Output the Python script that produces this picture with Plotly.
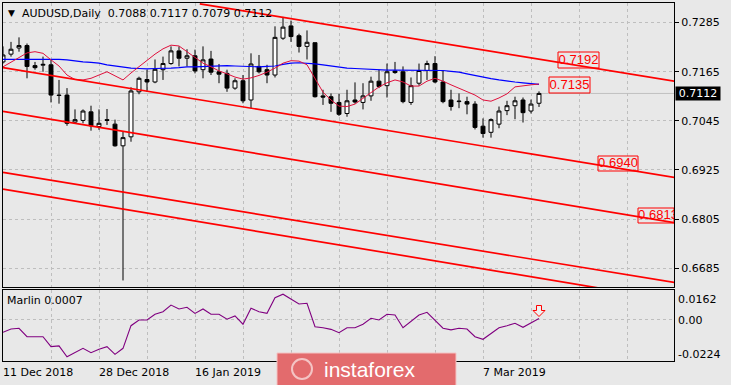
import plotly.graph_objects as go

# ---------------- data ----------------
symbol_name = "AUDUSD,Daily"
bars = list(range(68))

opens = [.7189, .7208, .7223, .7229, .7180, .7181, .7182, .7108, .7108, .7042,
         .7046, .7067, .7031, .7048, .7037, .6984, .7006, .7116, .7146, .7140,
         .7170, .7185, .7216, .7198, .7204, .7170, .7196, .7165, .7161, .7125,
         .7143, .7096, .7178, .7170, .7157, .7247, .7277, .7253, .7227, .7236,
         .7106, .7104, .7090, .7063, .7096, .7090, .7106, .7142, .7131, .7167,
         .7165, .7090, .7137, .7168, .7185, .7140, .7096, .7092, .7092, .7086,
         .7032, .7017, .7037, .7070, .7082, .7096, .7069, .7088]
highs = [.7227, .7238, .7249, .7234, .7189, .7202, .7194, .7145, .7125, .7073,
         .7073, .7082, .7073, .7074, .7048, .7018, .7127, .7153, .7170, .7195,
         .7202, .7227, .7227, .7220, .7219, .7227, .7216, .7184, .7170, .7149,
         .7157, .7210, .7206, .7182, .7276, .7299, .7290, .7258, .7266, .7236,
         .7121, .7112, .7111, .7121, .7139, .7137, .7153, .7170, .7185, .7189,
         .7178, .7151, .7185, .7192, .7203, .7168, .7121, .7112, .7104, .7093,
         .7051, .7051, .7080, .7094, .7104, .7102, .7097, .7117]
lows = [.7185, .7202, .7214, .7149, .7170, .7165, .7090, .7087, .7033, .7039,
        .7039, .7021, .7023, .7035, .6982, .6655, .6994, .7110, .7116, .7137,
        .7145, .7182, .7178, .7178, .7161, .7149, .7157, .7137, .7116, .7121,
        .7088, .7076, .7161, .7137, .7151, .7243, .7238, .7212, .7195, .7102,
        .7084, .7067, .7057, .7055, .7087, .7073, .7094, .7125, .7102, .7160,
        .7088, .7084, .7131, .7145, .7137, .7088, .7070, .7076, .7061, .7024,
        .7004, .7004, .7027, .7059, .7049, .7041, .7063, .7079]
closes = [.7206, .7220, .7229, .7178, .7175, .7183, .7108, .7107, .7039, .7048,
          .7069, .7033, .7039, .7046, .6984, .7004, .7118, .7149, .7140, .7171,
          .7185, .7216, .7198, .7204, .7167, .7194, .7164, .7159, .7125, .7143,
          .7094, .7184, .7165, .7157, .7249, .7274, .7251, .7227, .7237, .7104,
          .7103, .7088, .7061, .7094, .7091, .7106, .7142, .7129, .7165, .7163,
          .7092, .7131, .7168, .7185, .7140, .7092, .7080, .7093, .7086, .7029,
          .7014, .7048, .7069, .7082, .7094, .7065, .7086, .7112]

ma_slow = [.7195, .7195, .7195, .7196, .7196, .7196, .7196, .7195, .7194, .7191,
           .7189, .7188, .7186, .7182, .7179, .7177, .7174, .7173, .7172, .7173,
           .7173, .7174, .7175, .7177, .7177, .7178, .7179, .7180, .7180, .7179,
           .7178, .7177, .7177, .7178, .7179, .7183, .7186, .7187, .7186, .7184,
           .7182, .7179, .7177, .7174, .7173, .7172, .7171, .7169, .7169, .7169,
           .7169, .7169, .7169, .7168, .7168, .7168, .7166, .7164, .7160, .7156,
           .7151, .7148, .7145, .7142, .7140, .7138, .7136, .7134]
ma_fast = [.7177, .7189, .7201, .7211, .7214, .7210, .7194, .7179, .7157, .7146,
           .7145, .7149, .7157, .7165, .7155, .7145, .7162, .7177, .7194, .7208,
           .7221, .7230, .7228, .7214, .7199, .7186, .7177, .7167, .7160, .7152,
           .7147, .7150, .7156, .7164, .7174, .7186, .7192, .7191, .7182, .7150,
           .7115, .7096, .7081, .7080, .7086, .7100, .7113, .7128, .7138, .7145,
           .7140, .7130, .7130, .7142, .7149, .7142, .7133, .7125, .7118, .7108,
           .7096, .7093, .7101, .7111, .7128, .7131, .7133, .7135]
marlin = [-0.0068, -0.0050, -0.0046, -0.0092, -0.0092, -0.0092, -0.0146, -0.0142, -0.0201, -0.0179,
          -0.0155, -0.0179, -0.0160, -0.0146, -0.0188, -0.0155, -0.0032, -0.0001, -0.0001, 0.0030,
          0.0044, 0.0080, 0.0059, 0.0068, 0.0035, 0.0059, 0.0030, 0.0030, 0.0003, 0.0021,
          -0.0024, 0.0063, 0.0044, 0.0035, 0.0120, 0.0139, 0.0113, 0.0086, 0.0090, -0.0038,
          -0.0043, -0.0052, -0.0070, -0.0043, -0.0043, -0.0024, 0.0008, -0.0001, 0.0030, 0.0026,
          -0.0043, -0.0010, 0.0026, 0.0041, -0.0001, -0.0046, -0.0055, -0.0046, -0.0050, -0.0092,
          -0.0106, -0.0073, -0.0043, -0.0032, -0.0019, -0.0041, -0.0019, 0.0007]

# trend / channel lines: (start bar, start price, end bar, end price)
channel_A = (24.6, 0.7331, 83.9, 0.7142)
channel_B = (0.0, 0.7175, 83.9, 0.6907)
channel_C = (0.0, 0.7068, 83.9, 0.6796)
channel_D = (0.0, 0.6919, 83.9, 0.6650)
channel_E = (0.0, 0.6878, 83.9, 0.6606)

price_ticks = [0.7285, 0.7165, 0.7045, 0.6925, 0.6805, 0.6685]
marlin_ticks = [0.0162, 0.00, -0.0224]
level_labels = [0.7192, 0.7135, 0.6940, 0.6813]
date_labels = ["11 Dec 2018", "28 Dec 2018", "16 Jan 2019", "7 Mar 2019"]
date_label_bars = [0, 12, 24, 60]

# ---------------- geometry ----------------
W, H = 731, 385
PX0, PX1 = 3, 674
PY0, PY1 = 3, 361
MAIN_TOP, MAIN_BOT = 3, 287
IND_TOP, IND_BOT = 290, 361
X_RANGE = [0, 83.875]
MAIN_RANGE = [0.6639, 0.7333]
IND_RANGE = [-0.0224, 0.0162]
BG = "#E8E8E8"
GRID = "#BEBEBE"
FONT = "DejaVu Sans"


def paper_x(px):
    return (px - PX0) / (PX1 - PX0)


def paper_y(py):
    return (PY1 - py) / (PY1 - PY0)


def data_x(px):
    return X_RANGE[0] + (px - PX0) / (PX1 - PX0) * (X_RANGE[1] - X_RANGE[0])


def data_y(py):
    return MAIN_RANGE[1] - (py - MAIN_TOP) / (MAIN_BOT - MAIN_TOP) * (MAIN_RANGE[1] - MAIN_RANGE[0])


fig = go.Figure()

fig.add_trace(go.Candlestick(
    x=bars, open=opens, high=highs, low=lows, close=closes,
    increasing=dict(line=dict(color="black", width=1), fillcolor="white"),
    decreasing=dict(line=dict(color="black", width=1), fillcolor="black"),
    whiskerwidth=0, hoverinfo="skip", xaxis="x", yaxis="y"))

fig.add_trace(go.Scatter(x=bars, y=ma_slow, mode="lines",
                         line=dict(color="#0000FF", width=1.2), hoverinfo="skip"))
fig.add_trace(go.Scatter(x=bars, y=ma_fast, mode="lines",
                         line=dict(color="#E0103C", width=1), hoverinfo="skip"))

for ln in (channel_A, channel_B, channel_C, channel_D, channel_E):
    fig.add_trace(go.Scatter(x=[ln[0], ln[2]], y=[ln[1], ln[3]], mode="lines",
                             line=dict(color="#FF0000", width=1.7), hoverinfo="skip"))

# price level labels (boxes + clipped text)
level_boxes = [(558, 599, 52, 68), (549, 590, 77, 93), (598, 638, 156, 171), (638, 678, 208, 223)]
for val, (x0, x1, y0, y1) in zip(level_labels, level_boxes):
    fig.add_trace(go.Scatter(
        x=[data_x((x0 + x1) / 2)], y=[data_y((y0 + y1) / 2 + 0.5)], mode="text",
        text=[f"{val:.4f}"], textposition="middle center", cliponaxis=True,
        textfont=dict(family="Liberation Sans", size=13, color="#FF0000"), hoverinfo="skip"))
    fig.add_shape(type="rect", xref="x", yref="y",
                  x0=data_x(x0), x1=min(data_x(x1), X_RANGE[1]), y0=data_y(y0), y1=data_y(y1),
                  line=dict(color="#FF0000", width=1), fillcolor="rgba(0,0,0,0)")

fig.add_trace(go.Scatter(x=bars, y=marlin, mode="lines", xaxis="x2", yaxis="y2",
                         line=dict(color="#800080", width=1.1), hoverinfo="skip"))

grid_bars = list(range(0, 84, 6))
axis_common = dict(showline=True, mirror=True, linecolor="black", linewidth=1,
                   zeroline=False, fixedrange=True)

fig.update_layout(
    width=W, height=H,
    margin=dict(l=PX0, r=W - PX1, t=PY0, b=H - PY1),
    paper_bgcolor=BG, plot_bgcolor=BG,
    showlegend=False, hovermode=False,
    font=dict(family=FONT, size=11, color="black"),
    xaxis=dict(domain=[0, 1], range=X_RANGE, anchor="y", tickvals=grid_bars,
               showticklabels=False, ticks="", showgrid=True, gridcolor=GRID,
               griddash="3px,3px", rangeslider=dict(visible=False), **axis_common),
    yaxis=dict(domain=[paper_y(MAIN_BOT), 1], range=MAIN_RANGE, side="right",
               tickvals=price_ticks, ticktext=[f"{v:.4f}" for v in price_ticks],
               ticks="outside", ticklen=4, tickcolor="black",
               tickfont=dict(family=FONT, size=11, color="black"),
               showgrid=True, gridcolor=GRID, griddash="3px,3px", **axis_common),
    xaxis2=dict(domain=[0, 1], range=X_RANGE, anchor="y2", tickvals=grid_bars,
                showticklabels=False, ticks="", showgrid=True, gridcolor=GRID,
                griddash="3px,3px", **axis_common),
    yaxis2=dict(domain=[0, paper_y(IND_TOP)], range=IND_RANGE, side="right",
                anchor="x2", tickvals=[0], showticklabels=False, ticks="",
                showgrid=True, gridcolor=GRID, griddash="3px,3px", **axis_common),
)

# current bid line
fig.add_shape(type="line", xref="x", yref="y", x0=X_RANGE[0], x1=X_RANGE[1],
              y0=closes[-1], y1=closes[-1], line=dict(color="#C0C0C0", width=1), layer="below")

# signal arrow over last Marlin value
fig.add_shape(type="path", xref="x2", yref="y2", xsizemode="pixel", ysizemode="pixel",
              xanchor=bars[-1], yanchor=marlin[-1],
              path="M-2.5,13 L2.5,13 L2.5,8 L6,8 L0,2 L-6,8 L-2.5,8 Z",
              line=dict(color="#FF0000", width=1), fillcolor="rgba(255,255,255,0.3)")

ann = []
# header
ann.append(dict(xref="paper", yref="paper", x=paper_x(6), y=paper_y(13), xanchor="left",
                yanchor="middle", text="▼", showarrow=False,
                font=dict(family=FONT, size=9, color="black")))
ann.append(dict(xref="paper", yref="paper", x=paper_x(20), y=paper_y(13), xanchor="left",
                yanchor="middle", showarrow=False,
                text=f"{symbol_name}  {opens[-1]:.4f} {highs[-1]:.4f} {lows[-1]:.4f} {closes[-1]:.4f}",
                font=dict(family=FONT, size=11, color="black")))
# indicator name
ann.append(dict(xref="paper", yref="paper", x=paper_x(5), y=paper_y(300), xanchor="left",
                yanchor="middle", showarrow=False, text=f"Marlin {marlin[-1]:.4f}",
                font=dict(family=FONT, size=11, color="black")))
# indicator scale labels
for v, py in zip(marlin_ticks, [299, 320, 354]):
    ann.append(dict(xref="paper", yref="paper", x=paper_x(676), y=paper_y(py), xanchor="left",
                    yanchor="middle", showarrow=False,
                    text=("0.00" if v == 0 else f"{v:.4f}"),
                    font=dict(family=FONT, size=11, color="black")))
# bid label
ann.append(dict(xref="paper", yref="y", x=paper_x(675), y=closes[-1], xanchor="left",
                yanchor="middle", showarrow=False, text=f"{closes[-1]:.4f}",
                bgcolor="black", width=44, height=13, align="center", borderpad=0,
                font=dict(family=FONT, size=11, color="white")))
# date labels
for lbl, b in zip(date_labels, date_label_bars):
    ann.append(dict(xref="x2", yref="paper", x=b, y=paper_y(372), xanchor="left",
                    yanchor="middle", xshift=-2, showarrow=False, text=lbl,
                    font=dict(family=FONT, size=11, color="black")))

# watermark
fig.add_shape(type="rect", xref="paper", yref="paper",
              x0=paper_x(277), x1=paper_x(456), y0=paper_y(390), y1=paper_y(353),
              line=dict(color="#F4C4C4", width=1), fillcolor="#E36B6D", layer="above")
fig.add_shape(type="circle", xref="paper", yref="paper",
              x0=paper_x(292), x1=paper_x(312), y0=paper_y(379), y1=paper_y(359),
              line=dict(color="rgba(255,255,255,0.6)", width=2), fillcolor="rgba(0,0,0,0)")
ann.append(dict(xref="paper", yref="paper", x=paper_x(322), y=paper_y(369), xanchor="left",
                yanchor="middle", showarrow=False, text="instaforex",
                font=dict(family="Liberation Sans", size=21, color="white")))

fig.update_layout(annotations=ann)
fig.write_html("out.html", config={"displayModeBar": False},
               post_script="document.body.style.margin='0';document.body.style.overflow='hidden';")
